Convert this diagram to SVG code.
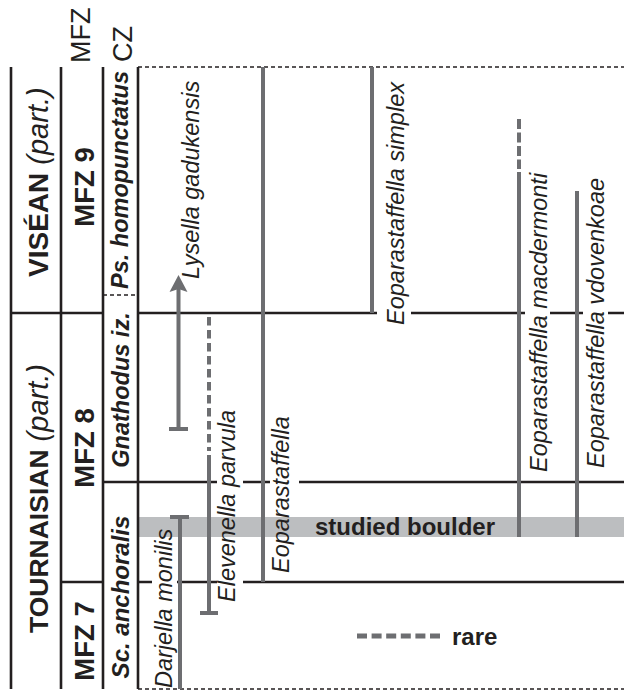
<svg xmlns="http://www.w3.org/2000/svg" width="624" height="691" viewBox="0 0 624 691">
<style>
.bl{stroke:#231f20;stroke-width:2.6;fill:none}
.dv{stroke:#231f20;stroke-width:1.5;stroke-dasharray:4 3;fill:none}
.rg{stroke:#6d6e71;stroke-width:4;fill:none}
.rd{stroke:#6d6e71;stroke-width:4;stroke-dasharray:10 3.5;fill:none}
.wb{fill:#ffffff}
.t{font-family:"Liberation Sans",Arial,sans-serif;fill:#231f20}
.sp{font-size:23.5px;font-style:italic}
.b{font-weight:bold}
.i{font-style:italic}
</style>
<rect width="624" height="691" fill="#ffffff"/>
<g id="boulder">
<rect x="138" y="517" width="486" height="20" fill="#bcbec0"/>
<text class="t b" x="315" y="535" font-size="24">studied boulder</text>
</g>
<g id="grid">
<line class="bl" x1="11" y1="67" x2="11" y2="689"/>
<line class="bl" x1="61" y1="67" x2="61" y2="689"/>
<line class="bl" x1="103" y1="67" x2="103" y2="689"/>
<line class="bl" x1="138" y1="67" x2="138" y2="689"/>
<line class="dv" x1="138" y1="67" x2="624" y2="67"/>
<line class="dv" x1="138" y1="689" x2="624" y2="689"/>
<line class="dv" x1="103" y1="295" x2="138" y2="295"/>
<line class="bl" x1="11" y1="313" x2="103" y2="313"/>
<line class="bl" x1="138" y1="313" x2="624" y2="313"/>
<line class="bl" x1="103" y1="482" x2="624" y2="482"/>
<line class="bl" x1="61" y1="582" x2="103" y2="582"/>
<line class="bl" x1="138" y1="582" x2="624" y2="582"/>
</g>
<g id="label-boxes">
<rect class="wb" x="377" y="300" width="34" height="33"/>
<rect class="wb" x="525" y="290" width="25" height="40"/>
<rect class="wb" x="583" y="290" width="25" height="40"/>
<rect class="wb" x="217" y="465" width="26" height="35"/>
<rect class="wb" x="217" y="565" width="26" height="35"/>
<rect class="wb" x="270" y="465" width="29" height="35"/>
<rect class="wb" x="152" y="565" width="25" height="35"/>
</g>
<g id="header">
<text class="t" transform="translate(90,63) rotate(-90)" font-size="27">MFZ</text>
<text class="t" transform="translate(132,62) rotate(-90)" font-size="27">CZ</text>
</g>
<g id="stage-visean">
<text class="t" transform="translate(48,277) rotate(-90)" font-size="28"><tspan class="b">VISÉAN</tspan><tspan class="i" font-size="29"> (part.)</tspan></text>
</g>
<g id="stage-tournaisian">
<text class="t" transform="translate(48,633) rotate(-90)" font-size="26.5"><tspan class="b">TOURNAISIAN</tspan><tspan class="i" font-size="29"> (part.)</tspan></text>
</g>
<g id="mfz9"><text class="t b" text-anchor="middle" transform="translate(94,187) rotate(-90)" font-size="27.5">MFZ 9</text></g>
<g id="mfz8"><text class="t b" text-anchor="middle" transform="translate(94,448) rotate(-90)" font-size="27.5">MFZ 8</text></g>
<g id="mfz7"><text class="t b" text-anchor="middle" transform="translate(94,641) rotate(-90)" font-size="27.5">MFZ 7</text></g>
<g id="cz-ps"><text class="t b i" text-anchor="middle" transform="translate(128,180) rotate(-90)" font-size="23.5">Ps. homopunctatus</text></g>
<g id="cz-gnathodus"><text class="t b i" text-anchor="middle" transform="translate(129,390) rotate(-90)" font-size="23.5">Gnathodus iz.</text></g>
<g id="cz-sc"><text class="t b i" text-anchor="middle" transform="translate(129,597) rotate(-90)" font-size="24">Sc. anchoralis</text></g>
<g id="connectors">
<g id="range-lysella">
<line class="rg" x1="178.5" y1="289" x2="178.5" y2="429"/>
<line class="rg" x1="169" y1="429" x2="188" y2="429"/>
<polygon points="178.5,275 187.5,292 178.5,289 169.5,292" fill="#6d6e71"/>
</g>
<g id="range-darjella">
<line class="rg" x1="180" y1="517" x2="180" y2="689"/>
<line class="rg" x1="170" y1="517" x2="189" y2="517"/>
</g>
<g id="range-elevenella">
<line class="rd" x1="209" y1="317" x2="209" y2="451" style="stroke-dasharray:8.5 4.5"/>
<line class="rg" x1="209" y1="455" x2="209" y2="613"/>
<line class="rg" x1="200" y1="613" x2="218" y2="613"/>
</g>
<line id="range-eoparastaffella" class="rg" x1="263" y1="67" x2="263" y2="582"/>
<line id="range-simplex" class="rg" x1="372" y1="67" x2="372" y2="313"/>
<g id="range-macdermonti">
<line class="rd" x1="519" y1="119" x2="519" y2="169"/>
<line class="rg" x1="519" y1="172" x2="519" y2="537"/>
</g>
<line id="range-vdovenkoae" class="rg" x1="577" y1="191" x2="577" y2="537"/>
</g>
<g id="sp-lysella"><text class="t sp" transform="translate(199,279) rotate(-90)">Lysella gadukensis</text></g>
<g id="sp-darjella"><text class="t sp" transform="translate(172,688) rotate(-90)">Darjella monilis</text></g>
<g id="sp-elevenella"><text class="t sp" transform="translate(235,602) rotate(-90)">Elevenella parvula</text></g>
<g id="sp-eoparastaffella"><text class="t sp" transform="translate(289,573) rotate(-90)">Eoparastaffella</text></g>
<g id="sp-simplex"><text class="t sp" transform="translate(404,325) rotate(-90)">Eoparastaffella simplex</text></g>
<g id="sp-macdermonti"><text class="t sp" transform="translate(547,472) rotate(-90)">Eoparastaffella macdermonti</text></g>
<g id="sp-vdovenkoae"><text class="t sp" transform="translate(604,468) rotate(-90)">Eoparastaffella vdovenkoae</text></g>
<g id="legend">
<line x1="357" y1="636" x2="440" y2="636" style="stroke:#6d6e71;stroke-width:5;stroke-dasharray:10 4.6"/>
<text class="t b" x="452" y="645" font-size="24">rare</text>
</g>
</svg>
